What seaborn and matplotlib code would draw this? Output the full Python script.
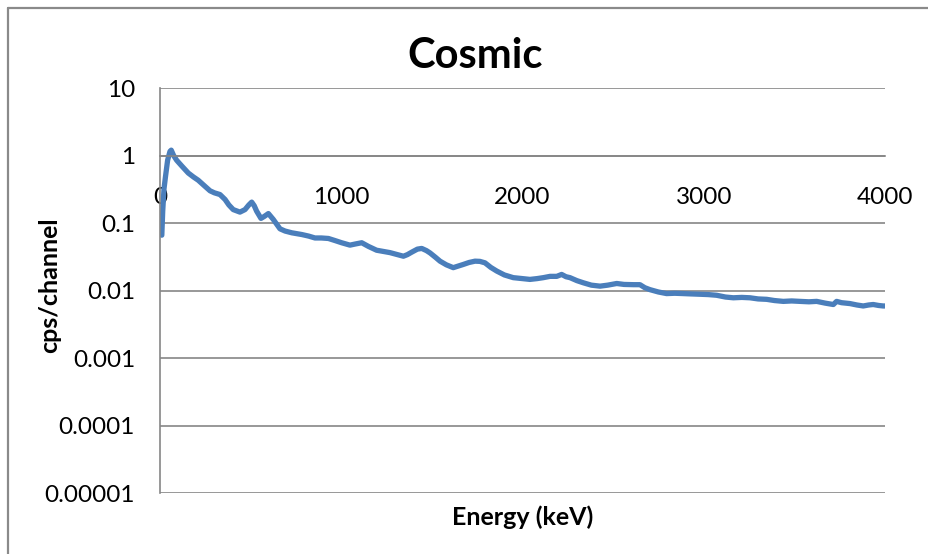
import matplotlib
matplotlib.use("Agg")
import matplotlib.pyplot as plt
from matplotlib.lines import Line2D
from matplotlib.ticker import FixedLocator, FixedFormatter, NullLocator
import seaborn as sns
import pandas as pd

# ---- data ----
energy_kev = [10, 15, 22, 30, 42, 55, 62, 75, 92, 120, 156, 185, 211, 248, 276, 300,
              331, 359, 380, 404, 441, 469, 490, 506, 520, 533, 557, 575, 598, 625,
              645, 662, 690, 727, 782, 820, 855, 890, 929, 965, 1002, 1048, 1080,
              1113, 1150, 1195, 1230, 1269, 1310, 1343, 1365, 1389, 1420, 1444, 1470,
              1490, 1520, 1545, 1580, 1618, 1645, 1673, 1705, 1738, 1765, 1793, 1825,
              1858, 1900, 1949, 2000, 2041, 2080, 2115, 2152, 2189, 2216, 2240, 2262,
              2300, 2336, 2380, 2428, 2470, 2520, 2560, 2612, 2648, 2675, 2703, 2750,
              2795, 2840, 2887, 2930, 2979, 3025, 3071, 3120, 3163, 3210, 3255, 3300,
              3347, 3390, 3439, 3485, 3531, 3580, 3623, 3670, 3715, 3733, 3760, 3807,
              3845, 3880, 3910, 3935, 3965, 3990, 4000]
cps_per_channel = [0.066, 0.15, 0.32, 0.48, 0.85, 1.15, 1.2, 1.0, 0.85, 0.7, 0.55, 0.48,
                   0.43, 0.35, 0.30, 0.28, 0.264, 0.223, 0.185, 0.158, 0.145, 0.158,
                   0.185, 0.204, 0.18, 0.15, 0.117, 0.125, 0.138, 0.113, 0.095, 0.082,
                   0.076, 0.0716, 0.0675, 0.064, 0.060, 0.060, 0.059, 0.055, 0.051,
                   0.047, 0.049, 0.051, 0.045, 0.0395, 0.038, 0.0364, 0.034, 0.0322,
                   0.034, 0.037, 0.041, 0.042, 0.039, 0.036, 0.031, 0.0272, 0.024,
                   0.0218, 0.023, 0.0243, 0.026, 0.0272, 0.027, 0.0257, 0.022, 0.0194,
                   0.017, 0.0155, 0.015, 0.0146, 0.015, 0.0155, 0.0162, 0.0162, 0.0173,
                   0.016, 0.0155, 0.014, 0.013, 0.012, 0.0116, 0.012, 0.0127, 0.0123,
                   0.0122, 0.0122, 0.011, 0.0103, 0.0095, 0.0090, 0.0091, 0.0090, 0.0089,
                   0.0088, 0.0087, 0.0085, 0.0080, 0.0078, 0.0079, 0.0078, 0.0075,
                   0.0074, 0.0071, 0.0069, 0.0070, 0.0069, 0.0068, 0.0069, 0.0065,
                   0.0062, 0.0069, 0.0066, 0.0064, 0.0061, 0.0059, 0.0061, 0.0062,
                   0.0060, 0.0059, 0.0059]

x_ticks = [0, 1000, 2000, 3000, 4000]
x_tick_labels = ["0", "1000", "2000", "3000", "4000"]
x_minor_ticks = [500, 1500, 2500, 3500]
y_ticks = [0.00001, 0.0001, 0.001, 0.01, 0.1, 1, 10]
y_tick_labels = ["0.00001", "0.0001", "0.001", "0.01", "0.1", "1", "10"]
title = "Cosmic"
x_label = "Energy (keV)"
y_label = "cps/channel"

df = pd.DataFrame({"energy": energy_kev, "cps": cps_per_channel})

# ---- style ----
sns.set_theme(style="white")
plt.rcParams["font.family"] = ["Lato", "DejaVu Sans"]

W, H = 929, 554
fig = plt.figure(figsize=(W / 100, H / 100), dpi=100)
ax = fig.add_axes([160 / W, 1 - 493 / H, (885 - 160) / W, (493 - 88) / H])

sns.lineplot(data=df, x="energy", y="cps", ax=ax, color="#4A7EBB",
             linewidth=3.8, solid_capstyle="round", solid_joinstyle="round")

ax.set_yscale("log")
ax.set_xlim(0, 4000)
ax.set_ylim(0.00001, 10)

grid_color = "#868686"
ax.yaxis.set_major_locator(FixedLocator(y_ticks))
ax.yaxis.set_major_formatter(FixedFormatter(y_tick_labels))
ax.yaxis.set_minor_locator(NullLocator())
for yv in y_ticks:
    ax.axhline(yv, color=grid_color, linewidth=1.2, zorder=0)

ax.xaxis.set_major_locator(FixedLocator(x_ticks))
ax.xaxis.set_major_formatter(FixedFormatter(x_tick_labels))
ax.xaxis.set_minor_locator(FixedLocator(x_minor_ticks))

for s in ["top", "right"]:
    ax.spines[s].set_visible(False)
ax.spines["left"].set_color(grid_color)
ax.spines["left"].set_linewidth(1.2)
ax.spines["bottom"].set_position(("data", 1))
ax.spines["bottom"].set_color(grid_color)
ax.spines["bottom"].set_linewidth(1.2)

ax.tick_params(axis="x", which="major", direction="inout", length=13, width=1.2,
               color=grid_color, pad=16, labelsize=17.5, labelcolor="black")
ax.tick_params(axis="x", which="minor", direction="out", length=4.5, width=1.2,
               color=grid_color)
ax.tick_params(axis="y", which="major", length=0, pad=18, labelsize=17.5,
               labelcolor="black")

ax.set_xlabel(x_label, fontsize=18, fontweight="bold", color="black")
ax.xaxis.set_label_coords(0.5, -0.059)
ax.xaxis.label.set_va("center")
ax.set_ylabel(y_label, fontsize=18, fontweight="bold", color="black")
ax.yaxis.set_label_coords(-0.152, 0.514)
ax.yaxis.label.set_va("center")

fig.text(475 / W, 1 - 56 / H, title, ha="center", va="center",
         fontsize=30, fontweight="bold", color="black")

# chart-area border (only its left and top edges fall inside the picture)
bx, by = 8 / W, 1 - 8 / H
fig.add_artist(Line2D([bx, bx], [0, by], transform=fig.transFigure,
                      color="#8a8a8a", linewidth=1.6))
fig.add_artist(Line2D([bx, 1], [by, by], transform=fig.transFigure,
                      color="#8a8a8a", linewidth=1.6))

fig.savefig("out.png", dpi=100)
